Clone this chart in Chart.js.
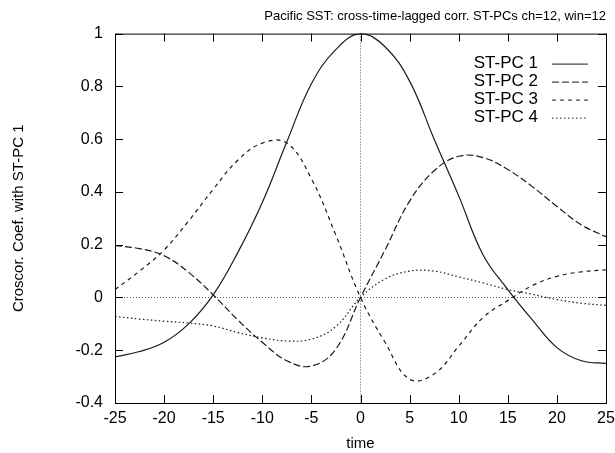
<!DOCTYPE html>
<html>
<head>
<meta charset="utf-8">
<script src="https://cdn.jsdelivr.net/npm/chart.js@4.4.0/dist/chart.umd.min.js"></script>
<style>
  body { margin: 0; background: #fff; }
  #wrap { width: 615px; height: 453px; }
</style>
</head>
<body>
<div id="wrap"><canvas id="chart"></canvas></div>
<script>
// lag (time) values and the four cross-correlation curves
const lags = [-25, -22.5, -20, -17.5, -15, -12.5, -10, -7.5, -5, -2.5, 0,
              2.5, 5, 7.5, 10, 12.5, 15, 17.5, 20, 22.5, 25];
const pc1 = [-0.225, -0.205, -0.17, -0.10, 0.01, 0.17, 0.36, 0.59, 0.81, 0.94, 1.0,
             0.95, 0.82, 0.60, 0.385, 0.16, 0.03, -0.085, -0.19, -0.24, -0.25];
const pc2 = [0.197, 0.185, 0.158, 0.095, 0.01, -0.085, -0.17, -0.24, -0.26, -0.195, 0.0,
             0.18, 0.365, 0.48, 0.535, 0.53, 0.485, 0.42, 0.345, 0.275, 0.23];
const pc3 = [0.03, 0.10, 0.18, 0.29, 0.41, 0.52, 0.585, 0.585, 0.45, 0.235, 0.0,
             -0.17, -0.31, -0.29, -0.185, -0.075, -0.012, 0.045, 0.08, 0.097, 0.105];
const pc4 = [-0.072, -0.082, -0.09, -0.097, -0.108, -0.133, -0.153, -0.165, -0.158, -0.11, 0.0,
             0.07, 0.10, 0.10, 0.078, 0.055, 0.03, 0.012, -0.008, -0.022, -0.03];
const seriesNames = ['ST-PC 1', 'ST-PC 2', 'ST-PC 3', 'ST-PC 4'];
const seriesDash = [[], [7, 3], [4, 4], [1.5, 2.5]];

const FONT = "'Liberation Sans', Arial, Helvetica, sans-serif";
const INK = '#1a1a1a';

const toPoints = ys => ys.map((y, i) => ({ x: lags[i], y: y }));

// gnuplot-like frame: box, inward ticks on all four sides, key with text then sample
const frame = {
  id: 'frame',
  afterDatasetsDraw(chart) {
    const { ctx, chartArea: a, scales } = chart;
    ctx.save();
    ctx.strokeStyle = '#000';
    ctx.lineWidth = 1;
    ctx.setLineDash([]);
    ctx.strokeRect(a.left + 0.5, a.top + 0.5, a.right - a.left, a.bottom - a.top);
    const tl = 8;
    ctx.beginPath();
    scales.x.ticks.forEach(t => {
      const px = Math.round(scales.x.getPixelForValue(t.value)) + 0.5;
      ctx.moveTo(px, a.bottom); ctx.lineTo(px, a.bottom - tl);
      ctx.moveTo(px, a.top); ctx.lineTo(px, a.top + tl);
    });
    scales.y.ticks.forEach(t => {
      const py = Math.round(scales.y.getPixelForValue(t.value)) + 0.5;
      ctx.moveTo(a.left, py); ctx.lineTo(a.left + tl, py);
      ctx.moveTo(a.right, py); ctx.lineTo(a.right - tl, py);
    });
    ctx.stroke();

    // key
    ctx.font = '17px ' + FONT;
    ctx.fillStyle = '#000';
    ctx.textAlign = 'right';
    ctx.textBaseline = 'middle';
    chart.data.datasets.forEach((ds, i) => {
      const y = a.top + 30 + i * 18;
      ctx.fillText(ds.label, a.right - 68, y);
      ctx.beginPath();
      ctx.setLineDash(ds.borderDash || []);
      ctx.strokeStyle = INK;
      ctx.lineWidth = 1;
      ctx.moveTo(a.right - 54, y + 0.5);
      ctx.lineTo(a.right - 18, y + 0.5);
      ctx.stroke();
    });
    ctx.restore();
  }
};

const zeroOnly = c => (c.tick && Math.abs(c.tick.value) < 1e-9 ? '#555' : 'rgba(0,0,0,0)');

new Chart(document.getElementById('chart'), {
  type: 'line',
  data: {
    datasets: [pc1, pc2, pc3, pc4].map((ys, i) => ({
      label: seriesNames[i],
      data: toPoints(ys),
      borderColor: INK,
      borderWidth: 1.2,
      borderDash: seriesDash[i],
      pointRadius: 0,
      fill: false,
      tension: 0.4
    }))
  },
  options: {
    responsive: true,
    maintainAspectRatio: false,
    animation: false,
    layout: { padding: { left: 0, right: 9, top: 0, bottom: 0 } },
    plugins: {
      legend: { display: false },
      tooltip: { enabled: false },
      title: {
        display: true,
        text: 'Pacific SST: cross-time-lagged corr. ST-PCs ch=12, win=12',
        align: 'end',
        color: '#000',
        font: { family: FONT, size: 13, weight: 'normal' },
        padding: { top: 9, bottom: 9 }
      }
    },
    scales: {
      x: {
        type: 'linear',
        min: -25,
        max: 25,
        afterFit: s => { s.height = 50; s.paddingLeft = 0; s.paddingRight = 0; },
        ticks: { stepSize: 5, padding: 6, color: '#000', font: { family: FONT, size: 16 } },
        grid: { color: zeroOnly, drawTicks: false, lineWidth: 1 },
        border: { display: false, dash: [1, 2] },
        title: {
          display: true, text: 'time', color: '#000',
          font: { family: FONT, size: 15 },
          padding: { top: 0, bottom: 0 }
        }
      },
      y: {
        min: -0.4,
        max: 1,
        afterFit: s => { s.width = 115; },
        ticks: {
          stepSize: 0.2, padding: 12, color: '#000',
          font: { family: FONT, size: 16 },
          callback: v => String(Number(v.toFixed(1)))
        },
        grid: { color: zeroOnly, drawTicks: false, lineWidth: 1 },
        border: { display: false, dash: [1, 2] },
        title: {
          display: true, text: 'Croscor. Coef. with ST-PC 1', color: '#000',
          font: { family: FONT, size: 15 },
          padding: { top: 10, bottom: 0 }
        }
      }
    }
  },
  plugins: [frame]
});
</script>
</body>
</html>
